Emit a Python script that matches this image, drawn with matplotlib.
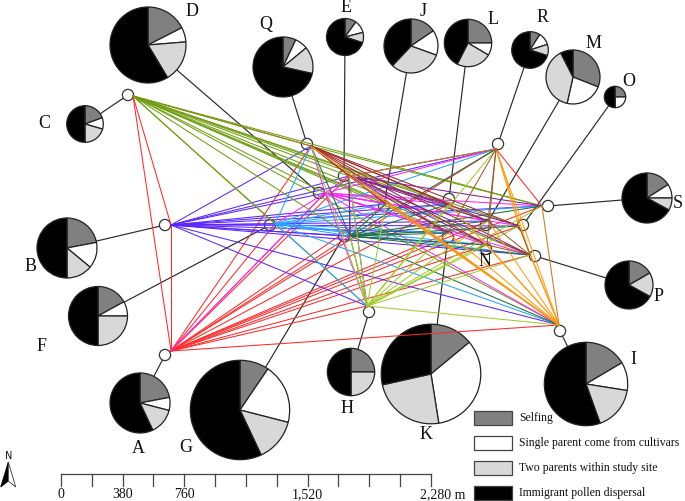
import matplotlib
matplotlib.use('Agg')
import matplotlib.pyplot as plt
from matplotlib.patches import Rectangle, Polygon, Circle

plt.rcParams['font.family'] = ['Liberation Serif', 'DejaVu Serif']

# all positions are read in image pixels (x to the right, y downward)
names = list('ABCDEFGHIJKLMNOPQRS')
# white circle of each site
node_x = [165, 165, 128, 319, 344, 270, 344, 369, 560, 384, 448, 449, 486, 486, 523, 535, 307, 498, 548]
node_y = [356, 226, 96, 194, 177, 226, 237, 313, 332, 207, 238, 200, 226, 250, 226, 257, 145, 145, 207]
# point where the coloured links of the site meet
hub_x = [171, 171, 133, 325, 349, 275, 350, 367, 559, 386, 448, 449, 488, 487, 519, 530, 311, 496, 542]
hub_y = [352, 226, 97, 194, 177, 225, 237, 307, 326, 205, 234, 205, 222, 246, 227, 256, 147, 150, 207]

# pies: centre, radius, then the four shares
pie_x = [140, 67, 85, 148, 345, 98, 240, 351, 586, 411, 431, 468, 573, 0, 615, 629, 283, 530, 647]
pie_y = [404, 249, 125, 46, 38, 317, 411, 373, 385, 47, 375, 44, 78, 0, 98, 286, 68, 51, 199]
pie_r = [30, 30, 18.3, 38, 18.5, 29.5, 49.7, 23.7, 41.7, 27, 49.8, 23.7, 27, 0, 10.7, 24, 30, 18.3, 25]
selfing = [22, 22, 19.5, 17.5, 10, 17, 9.5, 25, 16.5, 15.5, 14, 25, 31, 0, 25, 16.7, 7, 9, 16]
single = [7, 14, 10, 6.2, 11, 8, 19.5, 0, 11, 15, 33.5, 8.5, 22.5, 0, 25, 0, 7, 11, 9]
two = [14, 14, 20.5, 17.7, 9, 25, 14, 25, 17, 31.5, 24, 24, 39, 0, 0, 16.3, 14.5, 10, 8]
immigrant = [57, 50, 50, 58.6, 70, 50, 57, 50, 55.5, 38, 28.5, 42.5, 7.5, 0, 50, 67, 71.5, 70, 67]

label_x = [138, 31, 44, 192, 346, 42, 186, 347, 633, 423, 426, 493, 594, 485, 629, 659, 266, 543, 678]
label_y = [449, 267, 124, 12, 7, 347, 448, 409, 360, 12, 435, 19, 43, 262, 81, 297, 25, 18, 204]

# links: colour, from site, to sites
links = [
    ('#ff2a2a', 'A', 'BCDEFGHIJKLMNOPQRS'),
    ('#ff2a2a', 'C', 'BQ'),
    ('#ff2a2a', 'R', 'S'),
    ('#5a25ff', 'B', 'DEFGHIJKLMNOPQRS'),
    ('#6f9f10', 'C', 'DEFGHIJKLMNOPQS'),
    ('#6f9f10', 'Q', 'S'),
    ('#ff25ff', 'D', 'AEFGHIJKLMNOPQRS'),
    ('#25a5ff', 'F', 'GHIJKLNPQRS'),
    ('#1e6e40', 'G', 'EHIJKLMNOPQRS'),
    ('#7b1fa2', 'E', 'GHIJKLMNOPRS'),
    ('#a3cc2e', 'H', 'EGIJKLMNOPQRS'),
    ('#a52a2a', 'Q', 'EJKLMNOP'),
    ('#ff9c10', 'I', 'EJKLMNOPQR'),
    ('#ff9c10', 'R', 'OP'),
    ('#c97a20', 'I', 'S'),
    ('#c97a20', 'R', 'E'),
    ('#96602e', 'R', 'KMN'),
    ('#96602e', 'P', 'MNO'),
]

pie_colors = ['#808080', 'white', '#d8d8d8', 'black']
legend_labels = ['Selfing', 'Single parent come from cultivars',
                 'Two parents within study site', 'Immigrant pollen dispersal']
legend_y = [412, 437, 462, 487]

scale_ticks = [0, 380, 760, 1520, 2280]
scale_text = ['0', '380', '760', '1,520', '2,280 m']

fig = plt.figure(figsize=(6.85, 5.02), dpi=100)
ax = fig.add_axes([0, 0, 1, 1])

# black leader from each pie to its site
for i in range(len(names)):
    if pie_r[i] > 0:
        ax.plot([pie_x[i], node_x[i]], [pie_y[i], node_y[i]], color='#2a2a2a', lw=0.85, zorder=1)

# pies, y axis is inverted so -90 and counterclock give clockwise from the top
for i in range(len(names)):
    if pie_r[i] > 0:
        ax.pie([selfing[i], single[i], two[i], immigrant[i]], colors=pie_colors,
               center=(pie_x[i], pie_y[i]), radius=pie_r[i], startangle=-90,
               counterclock=True, frame=True,
               wedgeprops={'edgecolor': '#222222', 'linewidth': 0.9, 'zorder': 2})

for i in range(len(names)):
    ax.add_patch(Circle((node_x[i], node_y[i]), 5.6, facecolor='white',
                        edgecolor='#333333', lw=0.9, zorder=3))

hub = {n: (x, y) for n, x, y in zip(names, hub_x, hub_y)}
for color, src, targets in links:
    for t in targets:
        ax.plot([hub[src][0], hub[t][0]], [hub[src][1], hub[t][1]],
                color=color, lw=0.75, zorder=4, solid_capstyle='round')

for n, x, y in zip(names, label_x, label_y):
    ax.text(x, y, n, fontsize=13, ha='center', va='center', color='#111111', zorder=6)

# legend
for c, lab, y in zip(pie_colors, legend_labels, legend_y):
    ax.add_patch(Rectangle((474, y), 38, 13.5, facecolor=c, edgecolor='#444444', lw=0.9, zorder=5))
    ax.text(519, y + 6.5, lab, fontsize=8.5, ha='left', va='center', color='#111111', zorder=6)

# scale bar, 61 px at 0 m and 431 px at 2,280 m
scale_px = 370 / 2280
ax.plot([61, 431], [475, 475], color='#444444', lw=0.9, zorder=5)
for m in range(0, 2281, 190):
    ax.plot([61 + m * scale_px] * 2, [475, 487], color='#444444', lw=0.9, zorder=5)
for m, s in zip(scale_ticks, scale_text):
    x = 61 + m * scale_px
    if s.endswith(' m'):
        ax.text(x - 11, 495, s, fontsize=10, ha='left', va='center', color='#111111')
    else:
        ax.text(x, 495, s, fontsize=10, ha='center', va='center', color='#111111')

# north arrow
ax.add_patch(Polygon([(8.3, 463), (8.3, 482), (0.7, 488)], facecolor='black', edgecolor='black', lw=0.6))
ax.add_patch(Polygon([(8.3, 463), (8.3, 482), (15.7, 488)], facecolor='white', edgecolor='#333333', lw=0.6))
ax.text(8.3, 456, 'N', fontsize=7, ha='center', va='center', family='DejaVu Sans', color='#111111')

ax.set_xlim(0, 685)
ax.set_ylim(502, 0)
ax.set_aspect('auto')
ax.axis('off')

fig.savefig('out.png', dpi=100)
